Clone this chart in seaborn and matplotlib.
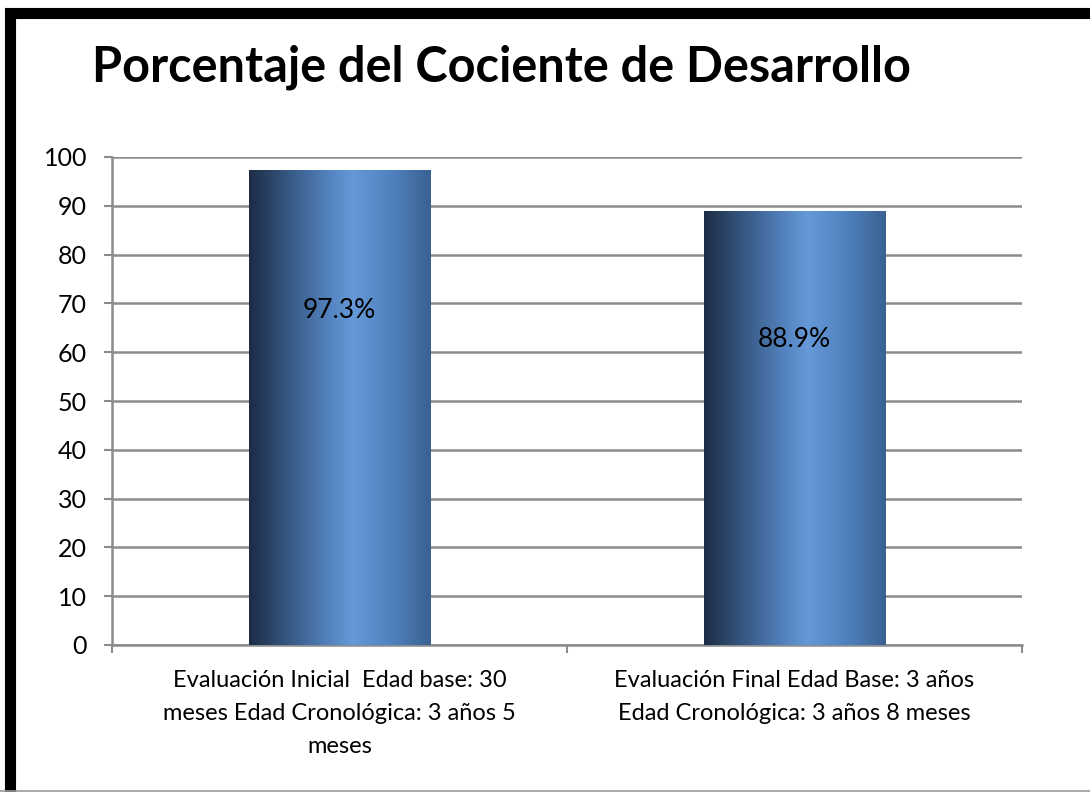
import numpy as np
import pandas as pd
import matplotlib
matplotlib.use("Agg")
import matplotlib.pyplot as plt
from matplotlib.colors import LinearSegmentedColormap
from matplotlib.patches import Rectangle
from matplotlib.lines import Line2D
import seaborn as sns

# data
categories = [
    "Evaluación Inicial  Edad base: 30\nmeses Edad Cronológica: 3 años 5\nmeses",
    "Evaluación Final Edad Base: 3 años\nEdad Cronológica: 3 años 8 meses",
]
values = [97.3, 88.9]
value_labels = ["97.3%", "88.9%"]
y_ticks = list(range(0, 101, 10))

sns.set_theme(style="white")
plt.rcParams["font.family"] = ["Lato", "DejaVu Sans"]
plt.rcParams["text.color"] = "black"

df = pd.DataFrame({"cat": categories, "val": values})

fig = plt.figure(figsize=(10.9, 7.92), dpi=100)
ax = fig.add_axes([112 / 1090, 1 - 645 / 792, 910 / 1090, 488 / 792])

sns.barplot(data=df, x="cat", y="val", ax=ax, width=0.4, color="#4a7ab5",
            edgecolor="none", zorder=3)

# gradient fill for bars
grad = LinearSegmentedColormap.from_list("bar", [
    (0.0, "#1c2c44"), (0.2, "#34557f"), (0.45, "#5584c2"),
    (0.57, "#6699d8"), (0.8, "#4e7fbd"), (1.0, "#3a6291")])
g = np.linspace(0, 1, 256).reshape(1, -1)
for p in ax.patches:
    x0, y0 = p.get_x(), p.get_y()
    w, h = p.get_width(), p.get_height()
    p.set_facecolor("none")
    im = ax.imshow(g, cmap=grad, aspect="auto", extent=(x0, x0 + w, y0, y0 + h),
                   zorder=3, interpolation="bicubic")
    im.set_clip_path(p)

for i, (v, lab) in enumerate(zip(values, value_labels)):
    ax.text(i, v * 0.705, lab, ha="center", va="center", fontsize=19,
            color="black", zorder=5)

ax.set_xlim(-0.5, 1.5)
ax.set_ylim(0, 100)
ax.set_yticks(y_ticks)
ax.set_yticklabels([str(t) for t in y_ticks], fontsize=18)
ax.set_xticks([0, 1])
ax.set_xticklabels(categories, fontsize=17, linespacing=1.7)
ax.set_xticks([-0.5, 0.5, 1.5], minor=True)
ax.tick_params(axis="x", which="major", length=0, pad=18, labelcolor="black")
ax.tick_params(axis="x", which="minor", length=6, width=1.5, color="#8c8c8c", direction="out", bottom=True)
ax.tick_params(axis="y", length=6, width=1.5, color="#8c8c8c", direction="out", left=True, pad=12,
               labelcolor="black")
ax.set_xlabel("")
ax.set_ylabel("")

ax.grid(axis="y", color="#8c8c8c", linewidth=1.8, zorder=0)
ax.set_axisbelow(True)
for s in ["top", "right"]:
    ax.spines[s].set_visible(False)
for s in ["left", "bottom"]:
    ax.spines[s].set_color("#8c8c8c")
    ax.spines[s].set_linewidth(1.8)

fig.text(501 / 1090, 1 - 67 / 792, "Porcentaje del Cociente de Desarrollo",
         ha="center", va="center", fontsize=35, fontweight="bold", color="black")

# outer frame
fig.add_artist(Rectangle((10 / 1090, -0.02), 1.1, 1 - 13 / 792 + 0.02,
                         transform=fig.transFigure, fill=False,
                         edgecolor="black", linewidth=8))
fig.add_artist(Line2D([0, 1], [0.6 / 792, 0.6 / 792], transform=fig.transFigure,
                      color="#9a9a9a", linewidth=1.2))

fig.savefig("out.png", dpi=100)
